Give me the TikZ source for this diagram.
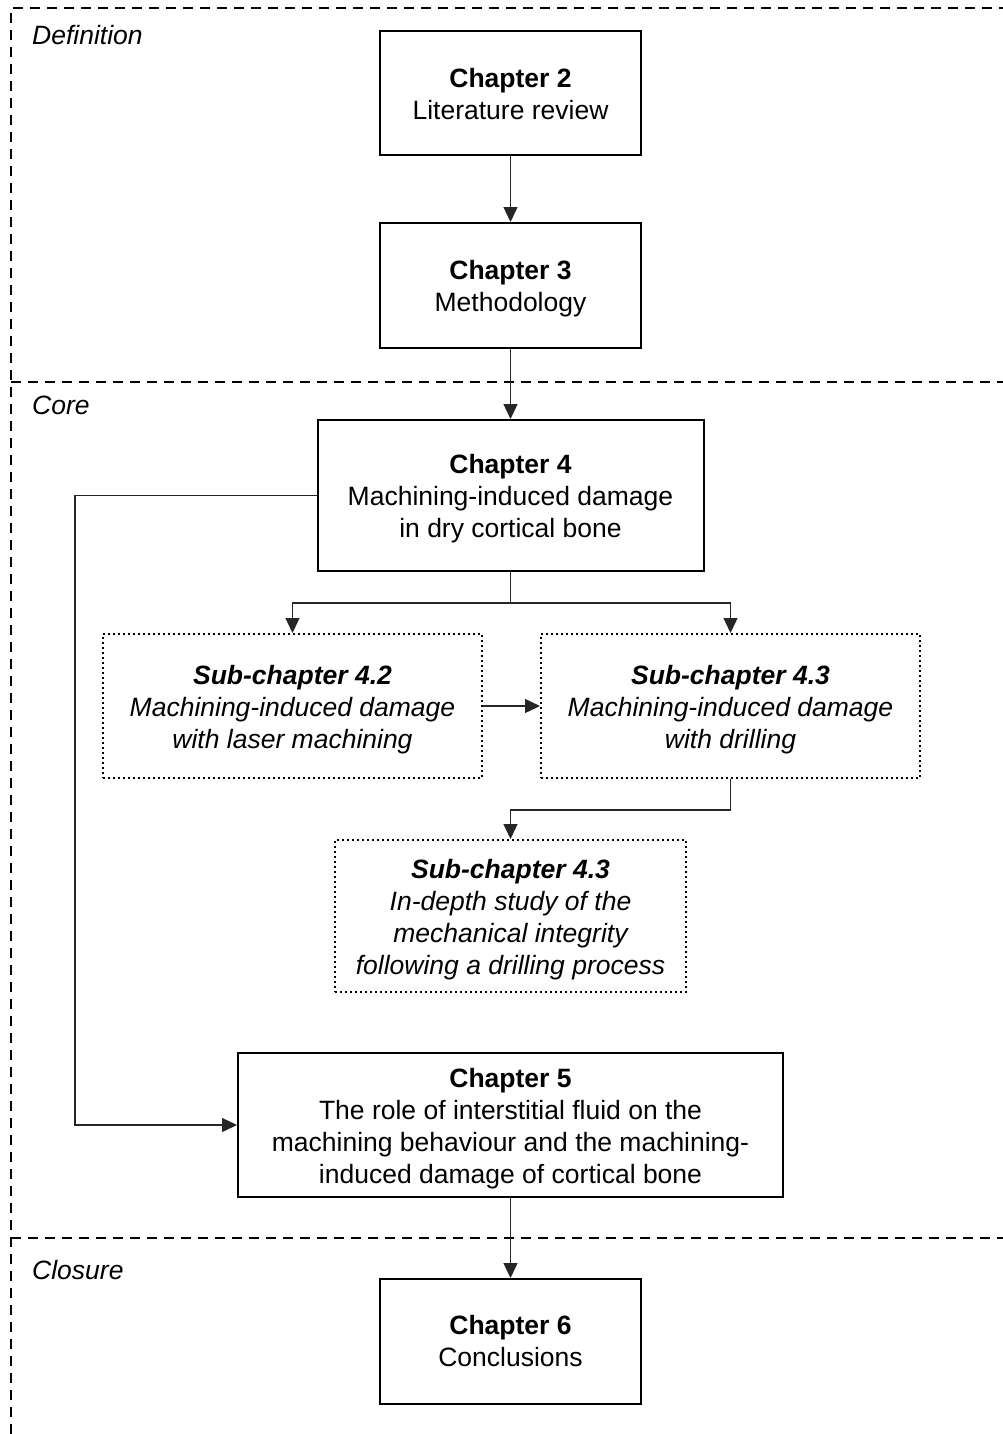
\documentclass[tikz,border=0pt]{standalone}
\usepackage{fontspec}
\setmainfont{Liberation Sans}
\usetikzlibrary{arrows.meta}
\newcommand\mytopstrut{\rule{0pt}{26pt}}
\tikzset{
  chap/.style={draw=black, line width=2pt, rectangle, inner sep=0pt, align=center, font=\fontsize{26.5}{32}\selectfont},
  sub/.style={draw=black, line width=2pt, dash pattern=on 2pt off 3pt, rectangle, inner sep=0pt, align=center, font=\fontsize{26.5}{32}\selectfont\itshape},
  region/.style={draw=black, line width=2pt, dash pattern=on 10pt off 7pt},
  arr/.style={draw=black!85, line width=1.4pt, -{Triangle[length=15pt,width=14pt]}},
  lbl/.style={anchor=west, inner sep=0pt, font=\fontsize{26.5}{32}\selectfont\itshape},
}
\begin{document}
\begin{tikzpicture}[x=1pt,y=-1pt]
\useasboundingbox (0,0) rectangle (1003,1434);
% regions
\draw[region] (11,1434) -- (11,8) -- (1003,8);
\draw[region] (11,382) -- (1003,382);
\draw[region] (11,1238) -- (1003,1238);
\node[lbl] (ldef) at (32,35) {Definition};
\node[lbl] (lcore) at (32,405) {Core};
\node[lbl] (lclo) at (32,1270) {Closure};
% boxes
\node[chap, minimum width=261pt, minimum height=124pt] (c2) at (510.5,93) {\rule{0pt}{22pt}\textbf{Chapter 2}\\Literature review};
\node[chap, minimum width=261pt, minimum height=125pt] (c3) at (510.5,285.5) {\mytopstrut\textbf{Chapter 3}\\Methodology};
\node[chap, minimum width=386pt, minimum height=151pt] (c4) at (510.5,495.5) {\mytopstrut\textbf{Chapter 4}\\Machining-induced damage\\in dry cortical bone};
\node[sub, minimum width=379pt, minimum height=144pt] (s42) at (292.5,706) {\mytopstrut\textbf{Sub-chapter 4.2}\\Machining-induced damage\\with laser machining};
\node[sub, minimum width=379pt, minimum height=144pt] (s43) at (730.5,706) {\mytopstrut\textbf{Sub-chapter 4.3}\\Machining-induced damage\\with drilling};
\node[sub, minimum width=351pt, minimum height=152pt] (s43b) at (510.5,916) {\mytopstrut\textbf{Sub-chapter 4.3}\\In-depth study of the\\mechanical integrity\\following a drilling process};
\node[chap, minimum width=545pt, minimum height=144pt] (c5) at (510.5,1125) {\mytopstrut\textbf{Chapter 5}\\The role of interstitial fluid on the\\machining behaviour and the machining-\\induced damage of cortical bone};
\node[chap, minimum width=261pt, minimum height=125pt] (c6) at (510.5,1341.5) {\textbf{Chapter 6}\\Conclusions};
% junctions
\coordinate (j1) at (510.5,603);
\coordinate (j2) at (730.5,810);
\coordinate (j3) at (75,495.5);
% connectors
\draw[arr] (c2) -- (c3);
\draw[arr] (c3) -- (c4);
\draw[arr] (c4.south) -- (j1) -| (s42.north);
\draw[arr] (j1) -| (s43.north);
\draw[arr] (s42) -- (s43);
\draw[arr] (s43.south) -- (j2) -| (s43b.north);
\draw[arr] (c4.west) -- (j3) |- (c5.west);
\draw[arr] (c5) -- (c6);
\end{tikzpicture}
\end{document}
